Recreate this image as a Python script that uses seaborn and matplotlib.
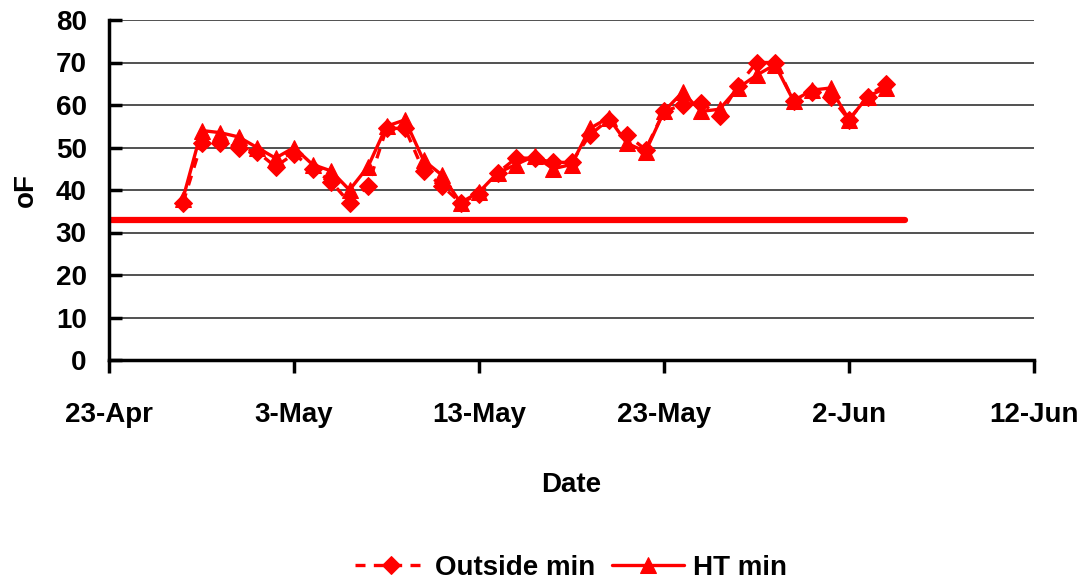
import matplotlib
matplotlib.use("Agg")
import matplotlib.pyplot as plt
import seaborn as sns
import pandas as pd

# ---- data ----
start_date = "2007-04-27"
end_date = "2007-06-04"
outside_min = [37, 51, 51, 50, 49, 45.5, 48.5, 45, 42, 37, 41, 54.5, 54.5, 44.5,
               41, 37, 39, 44, 47.5, 47.5, 46.5, 46.5, 53, 56.5, 53, 49.5, 58.5,
               60, 60.5, 57.5, 64.5, 70, 70, 61, 63, 62, 56.5, 62, 65]
ht_min = [38, 54, 53.5, 52.5, 50, 47.5, 50, 46, 44.5, 40, 45.5, 55, 56.5, 47,
          43.5, 37, 39.5, 44, 46, 48, 45, 46, 54.5, 57, 51, 49, 58.5, 63, 58.5,
          59, 64, 67, 69.5, 61, 63.5, 64, 56.5, 62, 64]
freeze_dates = ["2007-04-23", "2007-06-05"]
freeze_vals = [33, 33]
tick_dates = ["2007-04-23", "2007-05-03", "2007-05-13", "2007-05-23",
              "2007-06-02", "2007-06-12"]
tick_labels = ["23-Apr", "3-May", "13-May", "23-May", "2-Jun", "12-Jun"]
y_ticks = [0, 10, 20, 30, 40, 50, 60, 70, 80]

dates = pd.date_range(start_date, end_date, freq="D")
df = pd.DataFrame({"Date": dates, "Outside min": outside_min, "HT min": ht_min})
fz = pd.DataFrame({"Date": pd.to_datetime(freeze_dates), "v": freeze_vals})

sns.set_theme(style="white")
plt.rcParams["font.family"] = ["Liberation Sans", "DejaVu Sans"]
plt.rcParams["font.weight"] = "bold"
for k in ["text.color", "axes.labelcolor", "xtick.color", "ytick.color"]:
    plt.rcParams[k] = "black"

fig = plt.figure(figsize=(10.83, 5.84), dpi=100)
ax = fig.add_axes([109 / 1083, 1 - 360 / 584, (1034 - 109) / 1083, (360 - 20) / 584])

red = "#FF0000"
FS = 20

for y in y_ticks[1:]:
    ax.axhline(y, color="#222222", lw=1.1, zorder=0)

sns.lineplot(data=fz, x="Date", y="v", ax=ax, color=red, lw=4.5, legend=False, zorder=2)
sns.lineplot(data=df, x="Date", y="Outside min", ax=ax, color=red, lw=2.4,
             linestyle=(0, (3, 2.5)), marker="D", markersize=9.5,
             markeredgecolor=red, markerfacecolor=red, label="Outside min", zorder=3)
sns.lineplot(data=df, x="Date", y="HT min", ax=ax, color=red, lw=2.4,
             marker="^", markersize=11, markeredgecolor=red, markerfacecolor=red,
             label="HT min", zorder=4)

ax.set_xlim(pd.Timestamp(tick_dates[0]), pd.Timestamp(tick_dates[-1]))
ax.set_ylim(0, 80)
ax.set_xticks(pd.to_datetime(tick_dates))
ax.set_xticklabels(tick_labels, fontsize=FS, fontweight="bold")
ax.set_yticks(y_ticks)
ax.set_yticklabels([str(v) for v in y_ticks], fontsize=FS, fontweight="bold")

for s in ["top", "right"]:
    ax.spines[s].set_visible(False)
for s in ["left", "bottom"]:
    ax.spines[s].set_color("black")
    ax.spines[s].set_linewidth(2.5)
    ax.spines[s].set_zorder(5)

ax.tick_params(axis="y", direction="in", length=9, width=2.5, color="black",
               pad=16, left=True)
ax.tick_params(axis="x", direction="out", length=9, width=2.5, color="black",
               pad=21, bottom=True)

ax.set_xlabel("Date", fontsize=FS, fontweight="bold", labelpad=32)
ax.set_ylabel("oF", fontsize=FS, fontweight="bold", labelpad=12)

h, l = ax.get_legend_handles_labels()
ax.get_legend().remove()
fig.legend(h, l, loc="center", bbox_to_anchor=(0.527, 1 - 568 / 584), ncol=2,
           frameon=False, prop={"size": FS, "weight": "bold"},
           handlelength=2.6, handletextpad=0.3, columnspacing=0.6)

fig.savefig("out.png", dpi=100)
